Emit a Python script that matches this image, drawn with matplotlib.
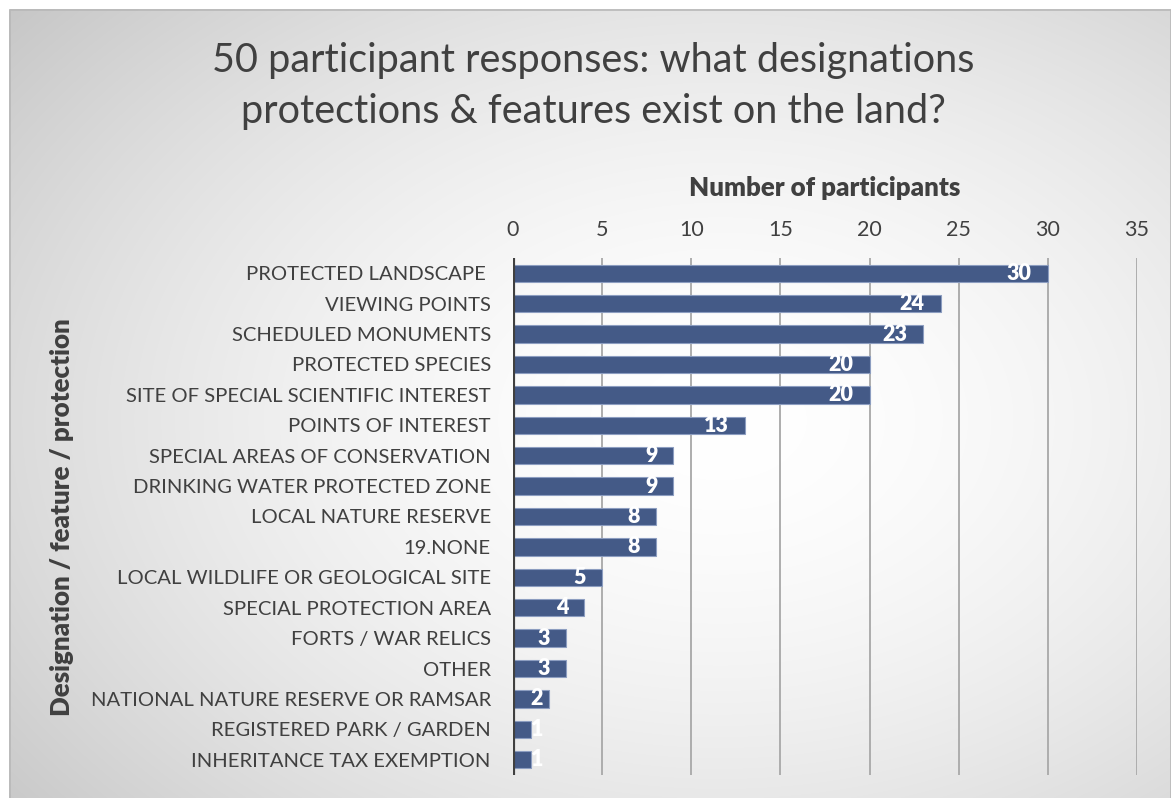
import numpy as np
import matplotlib
matplotlib.use("Agg")
import matplotlib.pyplot as plt
from matplotlib.patches import Rectangle

categories = [
    "PROTECTED LANDSCAPE ",
    "VIEWING POINTS",
    "SCHEDULED MONUMENTS",
    "PROTECTED SPECIES",
    "SITE OF SPECIAL SCIENTIFIC INTEREST",
    "POINTS OF INTEREST",
    "SPECIAL AREAS OF CONSERVATION",
    "DRINKING WATER PROTECTED ZONE",
    "LOCAL NATURE RESERVE",
    "19.NONE",
    "LOCAL WILDLIFE OR GEOLOGICAL SITE",
    "SPECIAL PROTECTION AREA",
    "FORTS / WAR RELICS",
    "OTHER",
    "NATIONAL NATURE RESERVE OR RAMSAR",
    "REGISTERED PARK / GARDEN",
    "INHERITANCE TAX EXEMPTION",
]
counts = [30, 24, 23, 20, 20, 13, 9, 9, 8, 8, 5, 4, 3, 3, 2, 1, 1]
x_ticks = [0, 5, 10, 15, 20, 25, 30, 35]

title = "50 participant responses: what designations\nprotections & features exist on the land?"
x_title = "Number of participants"
y_title = "Designation / feature / protection"

plt.rcParams["font.family"] = ["Lato", "DejaVu Sans"]
W, H = 1171, 798
fig = plt.figure(figsize=(W / 100, H / 100), dpi=100)
fig.patch.set_facecolor("white")

# radial grey-to-white backdrop of the chart area
m = 9
bg = fig.add_axes([m / W, 0, 1 - m / W, 1 - m / H], zorder=-5)
bw, bh = W - m, H - m
yy, xx = np.mgrid[0:bh, 0:bw]
cx, cy = 711, 411
r = np.sqrt(((xx - cx) / 620.0) ** 2 + ((yy - cy) / 430.0) ** 2)
shade = 255 - 57 * np.clip(r / 1.5, 0, 1.2) ** 1.7
shade = np.clip(shade, 190, 255) / 255.0
bg.imshow(np.dstack([shade] * 3), aspect="auto", extent=(0, bw, bh, 0))
bg.set_xlim(0, bw)
bg.set_ylim(bh, 0)
bg.axis("off")
bg.add_patch(Rectangle((0.5, 0.5), bw - 1, bh + 5, fill=False,
                       edgecolor="#B8B8B8", linewidth=1.2))

# plotting area
ax = fig.add_axes([513 / W, 1 - 775 / H, (1137 - 513) / W, (775 - 258) / H])
ax.set_facecolor("none")
ypos = np.arange(len(categories))
ax.barh(ypos, counts, height=0.57, color="#445A87",
        edgecolor="#8C9DC0", linewidth=0.8, zorder=3)
ax.set_xlim(0, 35)
ax.set_ylim(len(categories) - 0.5, -0.5)
ax.set_xticks(x_ticks)
ax.xaxis.tick_top()
ax.tick_params(axis="x", length=0, pad=13, labelsize=15.5, labelcolor="#404040")
ax.set_yticks(ypos)
ax.set_yticklabels(categories)
ax.tick_params(axis="y", length=0, pad=16, labelsize=14.6, labelcolor="#404040")
for s in ax.spines.values():
    s.set_visible(False)
ax.grid(axis="x", color="#ADADAD", linewidth=1.4, zorder=0)
ax.axvline(0, color="#404040", linewidth=3, zorder=4)

# value labels sit inside the bar end; very short bars push them past the axis
for y, v in zip(ypos, counts):
    if v > 2:
        ax.text(v - 0.9, y, str(v), ha="right", va="center", color="white",
                fontsize=15.5, fontweight="heavy", zorder=5)
    else:
        ax.text(1.0, y, str(v), ha="left", va="center", color="white",
                fontsize=15.5, fontweight="heavy", zorder=5)

fig.text(825 / W, 1 - 188 / H, x_title, ha="center", va="center",
         fontsize=18.6, fontweight="heavy", color="#404040")
fig.text(62 / W, 1 - 517 / H, y_title, ha="center", va="center", rotation=90,
         fontsize=18.6, fontweight="heavy", color="#404040")
fig.text(593 / W, 1 - 86 / H, title, ha="center", va="center",
         fontsize=28.5, color="#404040", linespacing=1.45)

fig.savefig("out.png", dpi=100)
